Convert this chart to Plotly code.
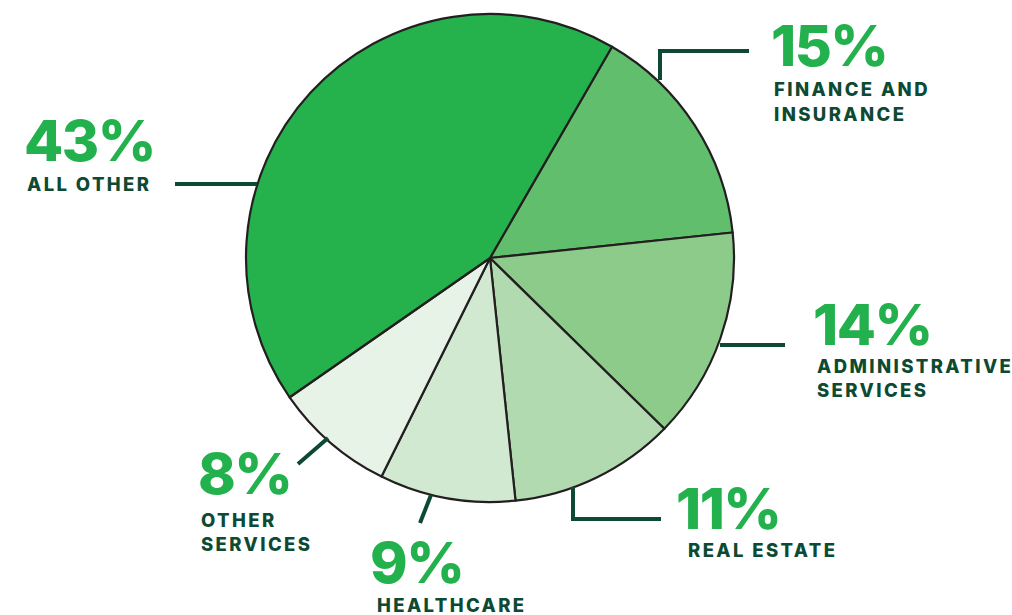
import plotly.graph_objects as go

# Share of total by industry (percent), clockwise from ~1 o'clock
categories = ["Finance and insurance", "Administrative services", "Real estate",
              "Healthcare", "Other services", "All other"]
shares = [15, 14, 11, 9, 8, 43]
label_lines = [["FINANCE AND", "INSURANCE"], ["ADMINISTRATIVE", "SERVICES"], ["REAL ESTATE"],
               ["HEALTHCARE"], ["OTHER", "SERVICES"], ["ALL OTHER"]]

slice_colors = ["#61be6c", "#8dcb8b", "#b1dab1", "#d2e9d1", "#e7f3e6", "#25b24c"]
PCT_GREEN = "#23b14d"
DARK = "#0d4a33"
W, H = 1012, 615

def px(x):
    return x / W

def py(y):
    return 1 - y / H

# pie geometry in pixels
cx, cy, r = 490, 258, 244

fig = go.Figure(go.Pie(
    labels=categories,
    values=shares,
    sort=False,
    direction="clockwise",
    rotation=30,
    marker=dict(colors=slice_colors, line=dict(color="#231f20", width=2.2)),
    textinfo="none",
    hoverinfo="label+percent",
    showlegend=False,
    domain=dict(x=[px(cx - r), px(cx + r)], y=[py(cy + r), py(cy - r)]),
))

# leader lines (pixel paths)
leaders = [
    [(660, 80), (660, 51), (749, 51)],
    [(720, 345), (785, 345)],
    [(573, 487), (573, 519), (661, 519)],
    [(431, 495), (420, 523)],
    [(328, 438), (298, 464)],
    [(257, 184), (175, 184)],
]
shapes = []
for pts in leaders:
    path = "M " + " L ".join(f"{px(x):.5f},{py(y):.5f}" for x, y in pts)
    shapes.append(dict(type="path", path=path, xref="paper", yref="paper",
                       line=dict(color=DARK, width=4), layer="above"))

# label anchors: (left x, percent centre y, first caption line centre y, caption left x)
anchors = [
    (769, 45, 89.5, 772),
    (811, 324, 366, 815),
    (674, 508, 550, 686),
    (368, 562, 605, 375),
    (196, 473, 520, 199),
    (22, 140, 184, 25),
]
line_gap = 24

annotations = []
for val, lines, (lx, ly, cyy, clx) in zip(shares, label_lines, anchors):
    annotations.append(dict(
        x=px(lx), y=py(ly), xref="paper", yref="paper", xanchor="left", yanchor="middle",
        text=f'<span style="letter-spacing:-1.5px">{val}%</span>', showarrow=False,
        height=50, valign="middle",
        font=dict(family="Inter", size=57, color=PCT_GREEN, weight=800),
    ))
    for j, line in enumerate(lines):
        annotations.append(dict(
            x=px(clx), y=py(cyy + j * line_gap), xref="paper", yref="paper",
            xanchor="left", yanchor="middle",
            text=f'<span style="letter-spacing:2.4px">{line}</span>', showarrow=False,
            height=20, valign="middle",
            font=dict(family="Inter", size=18.5, color=DARK, weight=800),
        ))

fig.update_layout(
    width=W, height=H,
    margin=dict(l=0, r=0, t=0, b=0),
    paper_bgcolor="white", plot_bgcolor="white",
    shapes=shapes, annotations=annotations,
)

fig.write_html("out.html")
